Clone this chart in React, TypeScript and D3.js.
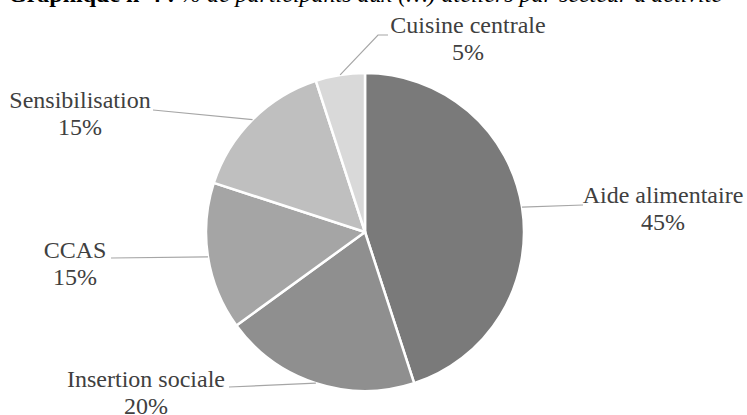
import * as d3 from "d3";

const categories = [
  "Aide alimentaire",
  "Insertion sociale",
  "CCAS",
  "Sensibilisation",
  "Cuisine centrale",
];
const values = [45, 20, 15, 15, 5];
const colors = ["#7a7a7a", "#8f8f8f", "#a5a5a5", "#bfbfbf", "#d9d9d9"];

const width = 747;
const height = 415;
const cx = 365;
const cy = 232;
const radius = 159;

// label layout: text centre x, first baseline y, leader end (x, y), optional elbow
const labelLayout = [
  { tx: 663, ty: 203, lx: 583, ly: 205 },
  { tx: 146, ty: 387, lx: 229, ly: 387 },
  { tx: 75, ty: 258, lx: 111, ly: 258 },
  { tx: 80, ty: 108, lx: 153, ly: 110 },
  { tx: 468, ty: 33, lx: 388, ly: 35, ex: 378, ey: 35 },
];

const font = "Liberation Serif, Times New Roman, serif";

const App = () => {
  const pie = d3
    .pie<number>()
    .sort(null)
    .value((d) => d);
  const arcs = pie(values);
  const arcGen = d3.arc<d3.PieArcDatum<number>>().innerRadius(0).outerRadius(radius);

  const rimPoint = (a: d3.PieArcDatum<number>) => {
    const mid = (a.startAngle + a.endAngle) / 2;
    return [cx + radius * Math.sin(mid), cy - radius * Math.cos(mid)];
  };

  return (
    <svg
      width={width}
      height={height}
      style={{ position: "absolute", left: 0, top: 0, background: "#fff", fontFamily: font }}
    >
      <text x={8} y={2} style={{ fontFamily: font }} fontSize={24} fill="#000">
        <tspan fontWeight="bold">Graphique n°4 : </tspan>
        <tspan fontStyle="italic">% de participants aux (…) ateliers par secteur d'activité</tspan>
      </text>

      <g transform={`translate(${cx},${cy})`}>
        {arcs.map((a, i) => (
          <path
            key={i}
            d={arcGen(a) ?? undefined}
            fill={colors[i]}
            stroke="#fff"
            strokeWidth={2.5}
            strokeLinejoin="round"
          />
        ))}
      </g>

      {arcs.map((a, i) => {
        const [px, py] = rimPoint(a);
        const l = labelLayout[i];
        const pts =
          l.ex !== undefined
            ? `${px},${py} ${l.ex},${l.ey} ${l.lx},${l.ly}`
            : `${px},${py} ${l.lx},${l.ly}`;
        return (
          <g key={i}>
            <polyline points={pts} fill="none" stroke="#a6a6a6" strokeWidth={1.2} />
            <text
              x={l.tx}
              y={l.ty}
              textAnchor="middle"
              style={{ fontFamily: font }}
              fontSize={24}
              fill="#404040"
            >
              {categories[i]}
            </text>
            <text
              x={l.tx}
              y={l.ty + 27}
              textAnchor="middle"
              style={{ fontFamily: font }}
              fontSize={24}
              fill="#404040"
            >
              {values[i]}%
            </text>
          </g>
        );
      })}
    </svg>
  );
};

export default App;
